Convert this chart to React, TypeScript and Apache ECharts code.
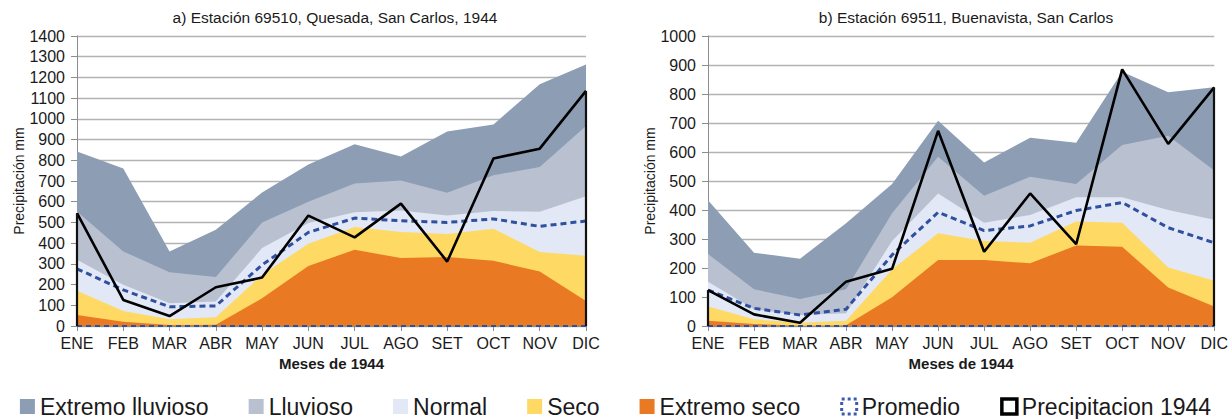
import React, { useEffect, useRef } from "react";
import * as echarts from "echarts";

const months = ["ENE", "FEB", "MAR", "ABR", "MAY", "JUN", "JUL", "AGO", "SET", "OCT", "NOV", "DIC"];

// a) Estación 69510, Quesada
const aExtLluv = [843, 760, 360, 465, 644, 780, 877, 818, 939, 973, 1167, 1262];
const aLluv = [553, 360, 260, 236, 500, 600, 688, 702, 643, 728, 767, 965];
const aNormal = [320, 199, 110, 118, 376, 497, 549, 558, 534, 555, 552, 626];
const aSeco = [170, 73, 32, 42, 247, 397, 478, 454, 444, 470, 357, 339];
const aExtSeco = [53, 21, 5, 6, 134, 290, 368, 328, 333, 315, 263, 121];
const aProm = [276, 174, 93, 97, 295, 452, 521, 508, 500, 517, 481, 507];
const aPrec = [545, 126, 48, 187, 234, 533, 428, 591, 311, 809, 856, 1135];

// b) Estación 69511, Buenavista
const bExtLluv = [434, 253, 232, 354, 490, 708, 564, 649, 632, 877, 806, 823];
const bLluv = [248, 127, 93, 127, 389, 584, 449, 515, 490, 624, 656, 536];
const bNormal = [153, 58, 38, 44, 293, 457, 356, 383, 444, 444, 400, 366];
const bSeco = [67, 23, 11, 18, 195, 320, 293, 287, 360, 356, 202, 156];
const bExtSeco = [18, 7, 1, 3, 99, 228, 228, 216, 278, 273, 133, 67];
const bProm = [124, 61, 38, 58, 245, 392, 329, 345, 398, 426, 339, 287];
const bPrec = [124, 40, 11, 153, 197, 673, 256, 457, 282, 885, 628, 823];

const titleA = "a) Estación 69510, Quesada, San Carlos, 1944";
const titleB = "b) Estación 69511, Buenavista, San Carlos";
const yName = "Precipitación mm";
const xName = "Meses de 1944";

const names = ["Extremo lluvioso", "Lluvioso", "Normal", "Seco", "Extremo seco", "Promedio", "Precipitacion 1944"];
const areaColors = ["#8d9db4", "#b9c1d1", "#e2e8f5", "#fed964", "#e97a23"];
const promColor = "#2f4f9f";

const FONT = "'Liberation Sans', Arial, sans-serif";

function buildSeries(idx: number, areas: number[][], prom: number[], prec: number[]) {
  const s: any[] = areas.map((d, i) => ({
    name: names[i],
    type: "line",
    xAxisIndex: idx,
    yAxisIndex: idx,
    data: d,
    symbol: "none",
    lineStyle: { width: 0 },
    itemStyle: { color: areaColors[i] },
    areaStyle: { color: areaColors[i], opacity: 1 },
    z: 2,
  }));
  const last = months.length - 1;
  s.push({
    name: names[5],
    type: "line",
    xAxisIndex: idx,
    yAxisIndex: idx,
    data: prom,
    symbol: "none",
    itemStyle: { color: promColor },
    lineStyle: { color: promColor, width: 3, type: [6, 4] },
    z: 3,
    markLine: {
      silent: true,
      symbol: "none",
      label: { show: false },
      lineStyle: { color: promColor, width: 2, type: [5, 4] },
      data: [
        [{ coord: [months[0], 0] }, { coord: [months[0], prom[0]] }],
        [{ coord: [months[last], 0] }, { coord: [months[last], prom[last]] }],
        [{ coord: [months[0], 0] }, { coord: [months[last], 0] }],
      ],
    },
  });
  s.push({
    name: names[6],
    type: "line",
    xAxisIndex: idx,
    yAxisIndex: idx,
    data: prec,
    symbol: "none",
    itemStyle: { color: "#000" },
    lineStyle: { color: "#000", width: 2.6 },
    z: 4,
    markLine: {
      silent: true,
      symbol: "none",
      label: { show: false },
      lineStyle: { color: "#111", width: 2.2, type: "solid" },
      data: [
        [{ coord: [months[0], 0] }, { coord: [months[0], prec[0]] }],
        [{ coord: [months[last], 0] }, { coord: [months[last], prec[last]] }],
      ],
    },
  });
  return s;
}

function xAxisCfg(gridIndex: number) {
  return {
    type: "category",
    gridIndex,
    data: months,
    boundaryGap: false,
    axisLine: { show: true, lineStyle: { color: "#8c8c8c", width: 1 } },
    axisTick: { show: true, length: 5, lineStyle: { color: "#8c8c8c" } },
    axisLabel: { interval: 0, color: "#1a1a1a", fontFamily: FONT, fontSize: 16, margin: 9 },
    name: xName,
    nameLocation: "middle",
    nameGap: 30,
    nameTextStyle: { fontFamily: FONT, fontWeight: "bold", fontSize: 15, color: "#1a1a1a" },
  };
}

function yAxisCfg(gridIndex: number, max: number) {
  return {
    type: "value",
    gridIndex,
    min: 0,
    max,
    interval: 100,
    axisLine: { show: true, lineStyle: { color: "#8c8c8c", width: 1 } },
    axisTick: { show: true, length: 6, lineStyle: { color: "#8c8c8c" } },
    splitLine: { show: true, lineStyle: { color: "#b3b3b3", width: 1.3 } },
    axisLabel: {
      color: "#1a1a1a",
      fontFamily: FONT,
      fontSize: 16,
      margin: 12,
      formatter: (v: number) => String(v),
    },
    name: yName,
    nameLocation: "middle",
    nameGap: 50,
    nameTextStyle: { fontFamily: FONT, fontSize: 14, color: "#1a1a1a" },
  };
}

export default function App() {
  const ref = useRef<HTMLDivElement>(null);
  useEffect(() => {
    if (!ref.current) return;
    const chart = echarts.init(ref.current, null, { renderer: "svg" });
    const legendData: any[] = names.map((n, i) => {
      if (i < 5) return { name: n, icon: "rect", itemStyle: { color: areaColors[i], borderWidth: 0 } };
      if (i === 5)
        return {
          name: n,
          icon: "rect",
          itemStyle: { color: "rgba(255,255,255,0)", borderColor: "#3a5cb0", borderWidth: 3, borderType: [3, 3] },
        };
      return { name: n, icon: "rect", itemStyle: { color: "#fff", borderColor: "#000", borderWidth: 3.5 } };
    });
    const titleStyle = { fontFamily: FONT, fontSize: 15.5, fontWeight: "normal", color: "#1a1a1a" };
    chart.setOption({
      animation: false,
      backgroundColor: "#fff",
      title: [
        { text: titleA, left: 335, top: 9, textAlign: "center", padding: 0, textStyle: titleStyle },
        { text: titleB, left: 966, top: 9, textAlign: "center", padding: 0, textStyle: titleStyle },
      ],
      legend: {
        data: legendData,
        left: "center",
        top: 395,
        itemGap: 40,
        itemWidth: 15,
        itemHeight: 15,
        padding: 0,
        textStyle: { fontFamily: FONT, fontSize: 23, color: "#1a1a1a" },
      },
      grid: [
        { left: 77, right: 645, top: 36, bottom: 93 },
        { left: 708, right: 13, top: 36, bottom: 93 },
      ],
      xAxis: [xAxisCfg(0), xAxisCfg(1)],
      yAxis: [yAxisCfg(0, 1400), yAxisCfg(1, 1000)],
      series: [
        ...buildSeries(0, [aExtLluv, aLluv, aNormal, aSeco, aExtSeco], aProm, aPrec),
        ...buildSeries(1, [bExtLluv, bLluv, bNormal, bSeco, bExtSeco], bProm, bPrec),
      ],
    });
    return () => chart.dispose();
  }, []);
  return (
    <div
      ref={ref}
      style={{ position: "absolute", left: 0, top: 0, width: 1231, height: 419, background: "#fff" }}
    />
  );
}
